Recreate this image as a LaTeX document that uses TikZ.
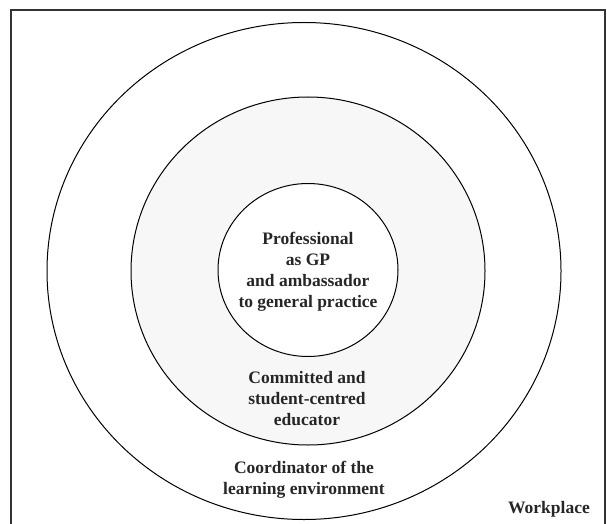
\documentclass[tikz,border=0pt]{standalone}
\usepackage{fontspec}
\setmainfont{Liberation Serif}
\usetikzlibrary{shapes.geometric, positioning}
\definecolor{ringgray}{HTML}{F7F7F7}

\begin{document}
\begin{tikzpicture}[x=1pt, y=-1pt]
\tikzstyle{ring} = [ellipse, draw=black, line width=1pt, inner sep=0pt]
\tikzstyle{ringtext} = [align=center, text=black!85, font=\bfseries\fontsize{17.5}{21}\selectfont]

\useasboundingbox (0,0) rectangle (607,524);
\draw[line width=1.2pt, black!80] (11,10) rectangle (605,534);

\node (outer) [ring, fill=white, minimum width=514pt, minimum height=497pt] at (304,271) {};
\node (middle) [ring, fill=ringgray, minimum width=354pt, minimum height=348pt] at (308,271) {};
\node (inner) [ring, fill=white, minimum width=180pt, minimum height=173pt] at (308,270) {};

\node (gp) [ringtext] at (308,272) {Professional\\as GP\\and ambassador\\to general practice};
\node (educator) [ringtext] at (307,399) {Committed and\\student-centred\\educator};
\node (coordinator) [ringtext] at (304,480) {Coordinator of the\\learning environment};
\node (workplace) [ringtext] at (549,509) {Workplace};

\end{tikzpicture}
\end{document}
